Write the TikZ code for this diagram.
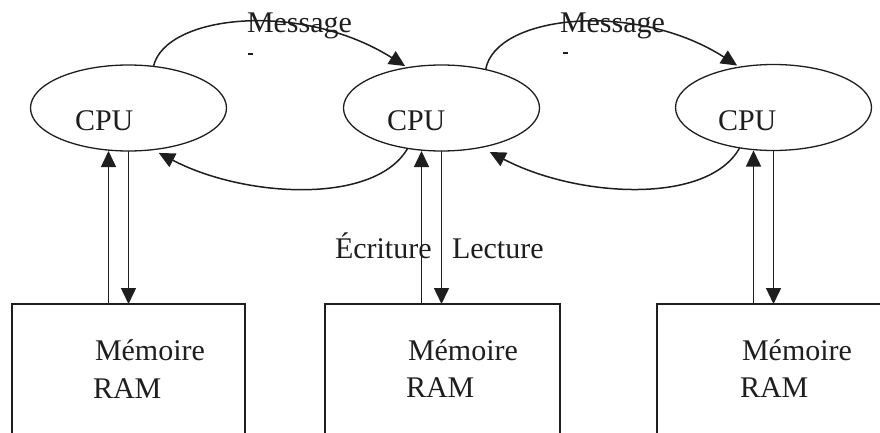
\documentclass[tikz,border=0pt]{standalone}
\usepackage{fontspec}
\setmainfont{Liberation Serif}
\usetikzlibrary{shapes.geometric,arrows.meta}
\definecolor{ink}{RGB}{30,30,30}
\begin{document}
\begin{tikzpicture}[x=1pt,y=-1pt,
  every node/.style={inner sep=0pt,outer sep=0pt},
  cpubox/.style={draw=ink,line width=1.3pt,ellipse,minimum width=196pt,minimum height=86pt},
  membox/.style={draw=ink,line width=1.4pt,rectangle,minimum height=156pt},
  lbl/.style={anchor=base west,text=ink,font=\fontsize{30}{36}\selectfont},
  arr/.style={draw=ink,line width=1.5pt,-{Triangle[length=16pt,width=15pt]}}]
\useasboundingbox (0,0) rectangle (880,433);
\clip (0,0) rectangle (880,433);

% processors
\node[cpubox] (cpu1) at (128.5,108) {};
\node[cpubox] (cpu2) at (441.5,108) {};
\node[cpubox] (cpu3) at (773.5,107.5) {};
\node[lbl] (t1) at (75,130) {CPU};
\node[lbl] (t2) at (387,130) {CPU};
\node[lbl] (t3) at (718,130) {CPU};

% memories (open at the bottom of the page)
\node[membox,minimum width=233pt] (mem1) at (128.5,382) {};
\node[membox,minimum width=235pt] (mem2) at (442.5,382) {};
\node[membox,minimum width=243pt] (mem3) at (778.5,382) {};
\node[lbl] (m1) at (95,360) {Mémoire};
\node[lbl] (r1) at (93,398) {RAM};
\node[lbl] (m2) at (408,360) {Mémoire};
\node[lbl] (r2) at (406,397) {RAM};
\node[lbl] (m3) at (742,360) {Mémoire};
\node[lbl] (r3) at (740,397) {RAM};

% memory traffic
\foreach \c/\m in {cpu1/mem1,cpu2/mem2,cpu3/mem3}{
  \draw[arr] ([xshift=-20pt]\c.south |- \m.north) -- ([xshift=-20pt]\c.south);
  \draw[arr] (\c.south) -- (\c.south |- \m.north);
}
\node[lbl] (ecr) at (335,258) {Écriture};
\node[lbl] (lec) at (452,258) {Lecture};

% messages between processors
\draw[arr,shorten >=3pt] (cpu1.59) .. controls (165,15) and (300,0) .. (cpu2.130);
\draw[arr,shorten >=3pt] (cpu2.41) .. controls (495,15) and (635,0) .. (cpu3.130);
\draw[arr,shorten >=7pt] (cpu2.230) .. controls (375,205) and (245,198) .. (cpu1.300);
\draw[arr,shorten >=10pt] (cpu3.230) .. controls (708,205) and (578,198) .. (cpu2.315);
\node[lbl] (msg1) at (247,33) {Message};
\node[lbl] (msg2) at (560,33) {Message};
\draw[ink,line width=1.2pt] (248,54) -- (253,54);
\draw[ink,line width=1.2pt] (563,53) -- (568,53);
\end{tikzpicture}
\end{document}
